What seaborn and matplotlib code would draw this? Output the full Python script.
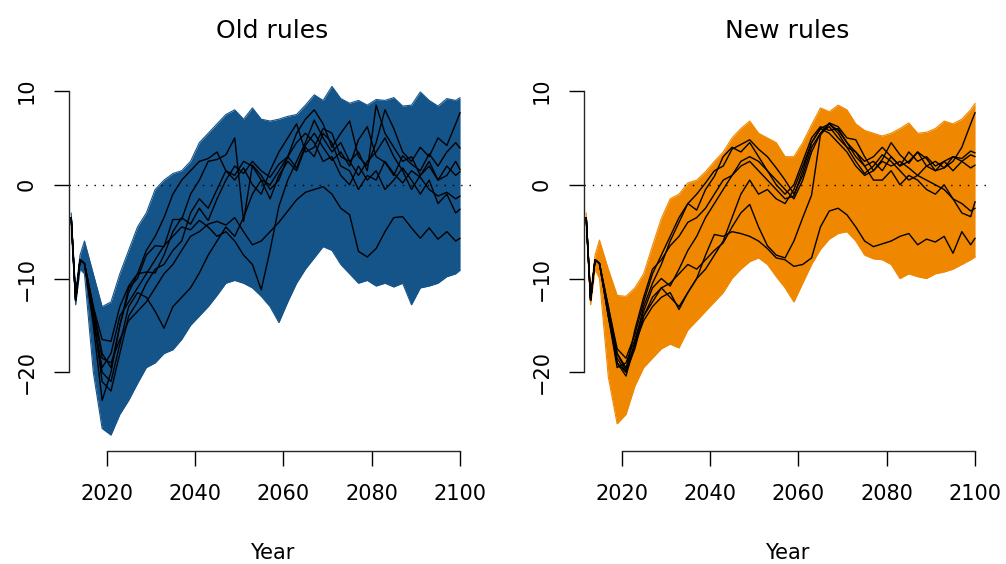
import numpy as np
import pandas as pd
import matplotlib
matplotlib.use("Agg")
import matplotlib.pyplot as plt
import seaborn as sns

# ---- time grid (annual at the start, then every second year) ----
years = [2012, 2013, 2014, 2015] + list(range(2017, 2100, 2)) + [2100]

# shared observed start of every run
start = [-3.5, -12.3, -8.0, -8.4]

# ---- Old rules: envelope of all simulated runs ----
old_upper = [-3.0, -11.5, -7.5, -6.0,
             -9.5, -13.0, -12.5, -9.5, -7.0, -4.5, -3.0, -0.5, 0.5, 1.2, 1.5, 2.5,
             4.5, 5.5, 6.5, 7.5, 8.0, 7.0, 8.2, 7.0, 6.8, 7.0, 7.3, 7.5, 8.5, 9.6,
             9.0, 10.5, 9.2, 8.7, 9.0, 8.5, 9.1, 9.0, 9.3, 8.4, 8.5, 9.9, 9.0, 8.4,
             9.2, 9.0, 9.3]
old_lower = [-4.5, -12.8, -9.0, -9.5,
             -20.0, -26.0, -26.7, -24.5, -23.0, -21.2, -19.5, -19.0, -18.0, -17.6,
             -16.5, -15.0, -14.0, -13.0, -11.8, -10.5, -10.2, -10.5, -11.0, -11.9,
             -13.0, -14.7, -12.5, -10.5, -9.0, -7.8, -6.6, -7.0, -8.5, -9.5, -10.5,
             -10.2, -10.8, -10.5, -10.9, -10.5, -12.8, -11.0, -10.8, -10.5, -9.8,
             -9.5, -9.1]

# ---- Old rules: highlighted individual runs ----
old_runs = [
    start + [-13, -16.5, -16.7, -13, -10.8, -9.5, -9.3, -9.4, -7.5, -5, -3.5, -4.2,
             -2.5, -3.8, -1.5, 0.5, 2.0, 1.2, 2.5, 1.5, 0.8, 2.2, 3.0, 1.8, 4.2, 5.5,
             4.0, 2.6, 3.5, 2.0, 4.8, 6.2, 3.0, 2.4, 1.0, 3.1, 2.2, 1.5, 3.3, 2.0, 3.5,
             4.5, 3.9],
    start + [-15, -23, -20, -15, -11, -10, -7.5, -6.5, -6.6, -3.7, -3.7, -1.0, 0.5,
             2.5, 2.7, 3.2, 5.0, -3.9, 2.1, 1.0, -0.5, 0.5, 3.0, 5.5, 7.0, 8.0, 6.5,
             4.0, 5.5, 6.8, 3.0, 2.0, 4.5, 8.0, 6.0, 3.5, 2.5, 4.0, 3.0, 5.0, 4.2, 6.5,
             7.7],
    start + [-14, -20, -21, -17, -13, -11.5, -12, -13.5, -15.3, -13, -12, -11, -9.4,
             -7.5, -6, -4.5, -5.5, -3.5, -1.0, 0.5, -1.5, 1.0, 2.5, 1.5, 4.0, 3.0, 5.5,
             4.5, 2.0, 1.5, -0.5, 1.0, 0.5, 2.5, 1.2, 0.2, 1.5, 0.8, -0.5, -1.2, -0.8,
             -1.5, -1.2],
    start + [-13.5, -18.5, -19, -16.5, -14.5, -13.5, -12.5, -11, -9.5, -8.5, -7.0,
             -5.5, -5.0, -4.2, -3.9, -4.3, -3.5, -5.0, -6.4, -6.0, -5.0, -4.0, -2.8,
             -1.6, -0.8, -0.5, -0.2, -1.0, -2.5, -3.2, -7.1, -7.7, -6.8, -5.0, -3.5,
             -3.4, -4.6, -5.7, -4.6, -5.8, -5.0, -6.0, -5.7],
    start + [-14.5, -19.5, -18, -14, -12.5, -11, -9.5, -8.0, -6.5, -5.5, -4.5, -4.8,
             -3.8, -4.5, -5.5, -5.0, -6.0, -7.5, -8.5, -11.2, -7.0, -2.3, 0.5, 2.5,
             4.5, 6.9, 5.0, 3.5, 4.5, 2.5, 1.0, 2.5, 3.5, 5.0, 3.0, 1.5, -0.5, 1.0,
             2.5, 0.5, 2.0, 1.0, 1.4],
    start + [-13, -18, -19.5, -15, -11.5, -9.5, -7.0, -5.5, -3.5, -1.0, 0.5, 1.5,
             2.5, 2.8, 3.5, 1.5, 1.0, 2.5, 2.0, 0.5, 0.0, 1.5, 3.0, 4.5, 5.5, 4.5, 2.5,
             3.0, 1.0, 0.0, 2.0, 0.5, 1.5, -0.5, 0.5, 1.8, 0.5, -1.0, 0.5, -2.0, -1.0,
             -3.0, -2.6],
    start + [-14, -21, -22, -18, -14, -12.5, -10.5, -9, -8.5, -7.0, -6.0, -3.0,
             -1.5, -2.5, -0.5, 1.5, 0.5, 1.8, 0.0, -1.0, 1.5, 3.5, 5.0, 6.5, 3.5, 4.0,
             6.0, 5.5, 3.0, 2.5, 3.5, 1.5, 8.5, 5.5, 4.0, 2.5, 3.0, 1.0, 2.0, 0.5, 1.0,
             2.5, 1.6],
]

# ---- New rules: envelope of all simulated runs ----
new_upper = [-3.0, -11.5, -7.5, -5.9,
             -9.0, -11.8, -11.9, -11.0, -9.5, -6.5, -3.6, -1.5, -1.0, 0.2, 0.5, 1.4,
             2.5, 3.5, 5.0, 6.0, 6.8, 5.5, 5.0, 4.5, 3.0, 3.0, 4.5, 6.4, 8.2, 7.8,
             8.5, 8.0, 6.5, 5.8, 5.5, 5.2, 5.5, 6.0, 6.6, 5.5, 5.6, 6.0, 6.8, 6.5,
             7.0, 8.0, 8.7]
new_lower = [-4.5, -12.8, -9.0, -10.0,
             -20.5, -25.5, -24.5, -21.5, -19.5, -18.5, -17.5, -17.0, -17.4, -15.5,
             -14.5, -13.5, -12.5, -11.5, -10.0, -9.0, -8.2, -7.8, -8.5, -9.8, -11.0,
             -12.5, -10.5, -8.5, -6.9, -5.8, -5.2, -5.0, -6.0, -7.5, -7.9, -8.0, -8.5,
             -10.0, -9.5, -9.8, -10.0, -9.5, -9.3, -9.0, -8.5, -8.0, -7.7]

# ---- New rules: highlighted individual runs ----
new_runs = [
    start + [-13, -17.5, -18.5, -16, -12.5, -9.5, -7.5, -5.5, -3.5, -2.0, -1.0, 0.2,
             1.5, 2.0, 3.8, 4.3, 4.8, 3.8, 3.0, 1.8, 0.5, -1.0, 1.0, 4.0, 5.5, 6.6, 6.2,
             5.0, 4.8, 3.0, 1.5, 2.7, 4.5, 3.2, 2.3, 3.5, 2.8, 1.5, 2.5, 3.0, 2.8, 3.6,
             3.4],
    start + [-13.5, -19, -20.4, -17.0, -13, -10.5, -8.5, -6.0, -4.0, -2.0, -2.7,
             -0.5, 0.9, 3.0, 4.0, 3.5, 4.5, 3.0, 1.5, 0.5, -0.5, -1.5, 0.5, 3.5, 5.5,
             6.2, 5.0, 4.0, 2.5, 1.2, 2.0, 3.2, 2.5, 1.5, 0.5, 1.0, 2.0, 1.5, 1.8, 2.5,
             4.0, 6.5, 7.7],
    start + [-14, -19.5, -19, -16.5, -13.5, -11, -10, -10.8, -9.0, -7.0, -5.5, -3.5,
             -2.0, -0.5, 1.0, 2.0, 2.5, 1.5, 0.5, -0.5, -1.5, -1.2, 1.5, 4.5, 6.0, 5.5,
             4.5, 3.5, 2.0, 1.0, 1.5, 2.5, 2.0, 2.5, 1.8, 1.0, 0.5, 0.0, -0.5, -1.5,
             -3.0, -3.4, -1.8],
    start + [-14, -18.5, -20, -16.9, -14, -12.5, -11, -12, -13, -11.5, -10, -9,
             -7.5, -6, -3.5, -1.0, 0.5, -1.0, -0.5, -1.5, -2.0, -0.5, 2.0, 4.5, 6.0,
             6.5, 5.8, 4.5, 3.5, 2.0, 0.5, 0.5, 1.5, 0.0, 1.0, 0.5, -0.5, -1.0, 0.0,
             -1.5, -2.0, -2.8, -2.5],
    start + [-13.5, -18, -19.5, -17.0, -14.5, -13.0, -12.0, -11.5, -13.3, -11.5,
             -10.0, -7.5, -5.3, -5.5, -5.0, -5.2, -5.5, -6.0, -6.8, -7.8, -8.0, -8.7,
             -8.5, -7.8, -4.5, -2.8, -2.5, -3.2, -4.5, -6.0, -6.6, -6.3, -6.0, -5.5,
             -5.2, -6.4, -5.8, -6.1, -5.5, -7.3, -5.0, -6.4, -5.7],
    start + [-14, -19, -20, -17.5, -14, -12, -11, -10.5, -9.5, -8.5, -9.0, -8.0,
             -7.0, -6.2, -4.5, -3.0, -2.1, -4.5, -6.5, -7.5, -7.8, -6.0, -3.5, -1.1,
             5.3, 6.5, 5.5, 4.0, 3.5, 2.5, 3.0, 4.0, 3.0, 2.0, 3.5, 2.5, 3.0, 2.0, 2.5,
             1.5, 2.5, 1.8, 2.1],
    start + [-13, -18, -19.8, -15.5, -12, -9.0, -8.0, -6.5, -5.5, -4.0, -3.5, -2.5,
             -1.0, 0.5, 1.0, 2.5, 3.0, 2.5, 1.5, 0.0, -1.0, 0.0, 2.5, 5.0, 6.2, 5.8,
             6.0, 4.5, 3.0, 2.0, 2.5, 1.5, 3.0, 2.0, 2.5, 3.5, 2.0, 2.5, 1.8, 3.0, 2.5,
             3.2, 3.0],
]

titles = ["Old rules", "New rules"]
fan_colors = ["#155489", "#F08700"]
x_ticks = [2020, 2040, 2060, 2080, 2100]
y_ticks = [-20, -10, 0, 10]

for arr in [old_upper, old_lower, new_upper, new_lower] + old_runs + new_runs:
    assert len(arr) == len(years), len(arr)


def runs_frame(runs):
    rows = []
    for i, run in enumerate(runs):
        for yr, v in zip(years, run):
            rows.append({"Year": yr, "value": v, "run": i})
    return pd.DataFrame(rows)


sns.set_style("ticks")
plt.rcParams["font.family"] = ["DejaVu Sans"]
plt.rcParams["axes.linewidth"] = 1.0
plt.rcParams["text.color"] = "black"
plt.rcParams["axes.labelcolor"] = "black"

fig = plt.figure(figsize=(10.06, 5.64), dpi=100)
W, H = 1006, 564
panels = [
    fig.add_axes([69 / W, 1 - 451 / H, 407 / W, (451 - 77) / H]),
    fig.add_axes([584 / W, 1 - 451 / H, 407 / W, (451 - 77) / H]),
]

data = [(old_upper, old_lower, old_runs), (new_upper, new_lower, new_runs)]

for ax, title, col, (up, lo, runs) in zip(panels, titles, fan_colors, data):
    # envelope of all simulations
    ax.fill_between(years, lo, up, color=col, lw=0, zorder=1)
    ax.plot(years, up, color=col, lw=0.8, zorder=1)
    ax.plot(years, lo, color=col, lw=0.8, zorder=1)

    # zero reference
    ax.axhline(0, color="black", lw=1.0, ls=(0, (1, 5)), zorder=2)

    # highlighted runs
    sns.lineplot(data=runs_frame(runs), x="Year", y="value", units="run",
                 estimator=None, color="black", lw=1.0, ax=ax, zorder=3,
                 legend=False)

    ax.set_xlim(2011.5, 2103.6)
    ax.set_ylim(-28.4, 11.5)
    ax.set_xticks(x_ticks)
    ax.set_yticks(y_ticks)
    ax.set_xticklabels([str(t) for t in x_ticks])
    ax.set_yticklabels([str(t).replace("-", "\u2212") for t in y_ticks])

    sns.despine(ax=ax)
    ax.spines["left"].set_bounds(-20, 10)
    ax.spines["bottom"].set_bounds(2020, 2100)

    ax.tick_params(axis="both", direction="out", length=10.5, width=1.0,
                   labelsize=15, pad=13, color="black", labelcolor="black")
    for lab in ax.get_yticklabels():
        lab.set_rotation(90)
        lab.set_va("center")

    ax.set_xlabel("Year", fontsize=15, labelpad=28, color="black")
    ax.set_ylabel("")
    ax.set_title(title, fontsize=18, pad=28, color="black")

fig.savefig("out.png", dpi=100)
